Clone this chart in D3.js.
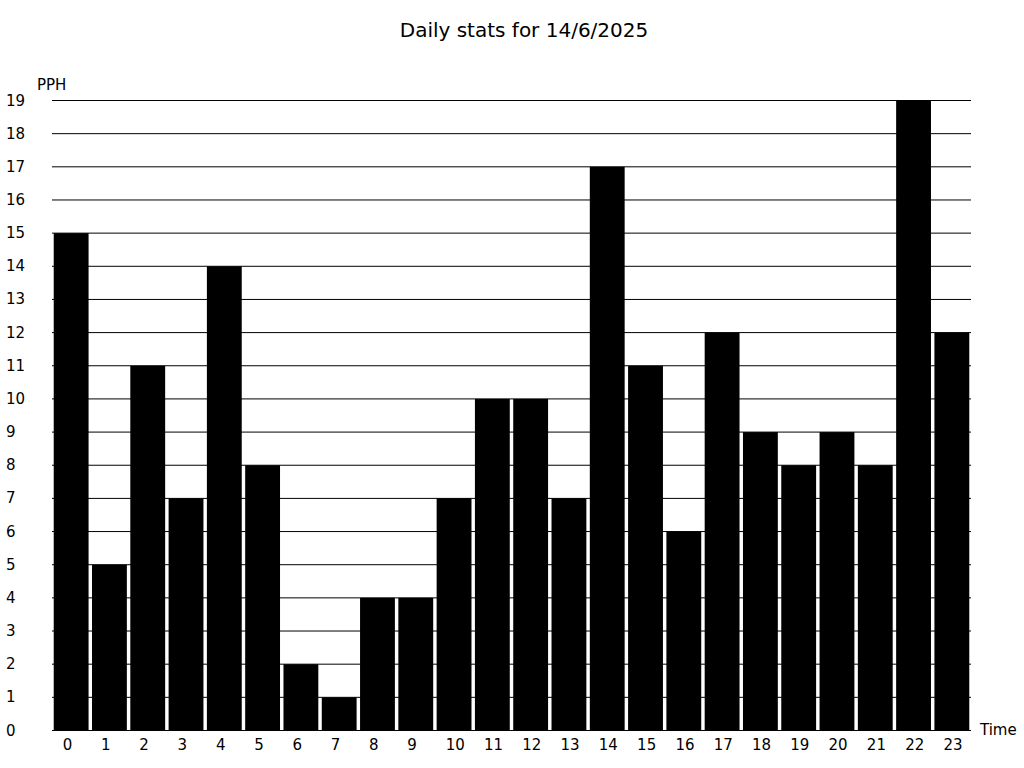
<!DOCTYPE html>
<html>
<head>
<meta charset="utf-8">
<script src="https://cdn.jsdelivr.net/npm/d3@7"></script>
<style>
  body { margin: 0; background: #fff; }
  svg { display: block; font-family: "DejaVu Sans", sans-serif; }
</style>
</head>
<body>
<svg id="chart" width="1024" height="768"></svg>
<script>
const hours = ["0","1","2","3","4","5","6","7","8","9","10","11","12","13","14","15","16","17","18","19","20","21","22","23"];
const pph = [15,5,11,7,14,8,2,1,4,4,7,10,10,7,17,11,6,12,9,8,9,8,19,12];
const yTicks = [0,1,2,3,4,5,6,7,8,9,10,11,12,13,14,15,16,17,18,19];
const title = "Daily stats for 14/6/2025";
const yLabel = "PPH";
const xLabel = "Time";

const svg = d3.select("#chart");
const left = 52, right = 971;
const x = d3.scaleBand().domain(hours).range([left, right]).paddingInner(0.09).paddingOuter(0.045);
const y = d3.scaleLinear().domain([0, 19]).range([730.5, 100.5]);

svg.append("text").attr("x", 524).attr("y", 37).attr("text-anchor", "middle")
  .attr("font-size", 20).attr("fill", "#000").text(title);

// gridlines
svg.append("g").selectAll("line").data(yTicks.filter(d => d > 0)).join("line")
  .attr("x1", left).attr("x2", right)
  .attr("y1", d => y(d)).attr("y2", d => y(d))
  .attr("stroke", "#000").attr("stroke-width", 1);

// y tick labels
svg.append("g").selectAll("text").data(yTicks).join("text")
  .attr("x", 6).attr("y", d => y(d) + 5)
  .attr("font-size", 15).attr("fill", "#000").text(d => d);

// bars
svg.append("g").selectAll("rect").data(pph).join("rect")
  .attr("x", (d, i) => x(hours[i]))
  .attr("width", x.bandwidth())
  .attr("y", d => y(d))
  .attr("height", d => y(0) - y(d))
  .attr("fill", "#000");

// x axis line
svg.append("line").attr("x1", left).attr("x2", right)
  .attr("y1", y(0)).attr("y2", y(0)).attr("stroke", "#000");

// x tick labels
svg.append("g").selectAll("text").data(hours).join("text")
  .attr("x", d => x(d) + 9)
  .attr("y", 750)
  .attr("font-size", 15).attr("fill", "#000").text(d => d);

svg.append("text").attr("x", 37).attr("y", 90).attr("font-size", 15).attr("fill", "#000").text(yLabel);
svg.append("text").attr("x", 980).attr("y", 735).attr("font-size", 15).attr("fill", "#000").text(xLabel);
</script>
</body>
</html>
